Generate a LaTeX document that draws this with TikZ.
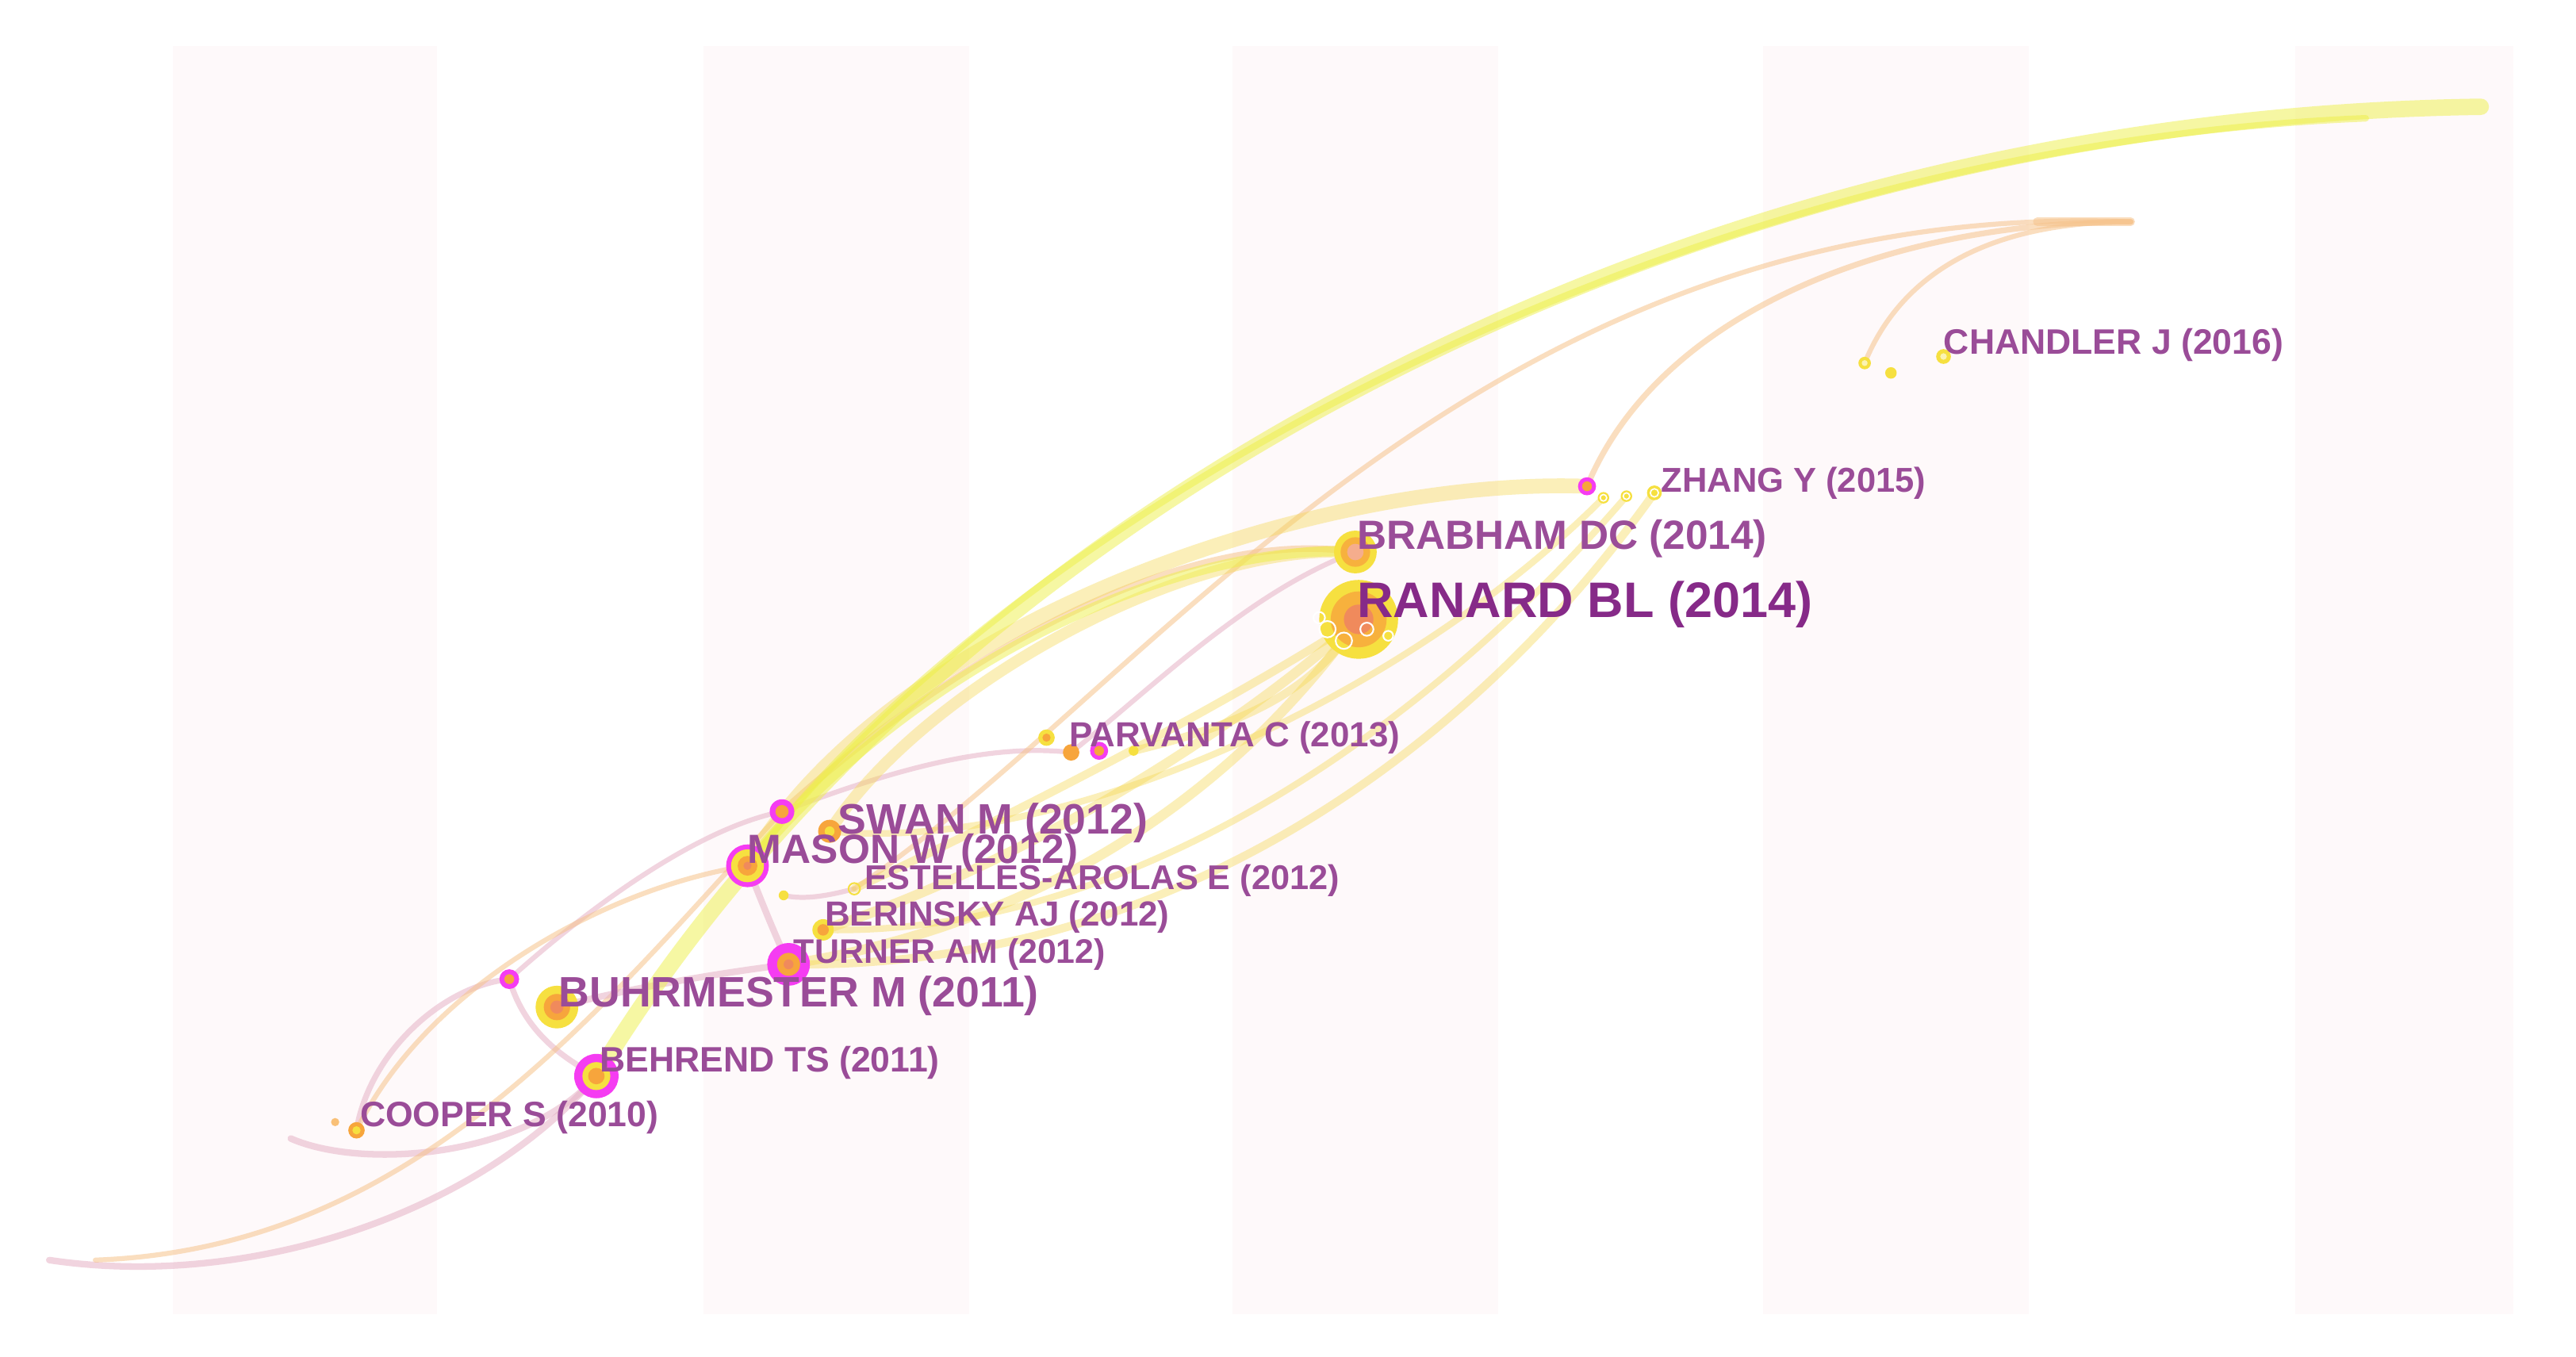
\documentclass[tikz,border=0pt]{standalone}
\usepackage{fontspec}
\setmainfont{Liberation Sans}
\definecolor{stripe}{HTML}{FEF9FA}
\definecolor{labc}{HTML}{9A4C98}
\definecolor{labd}{HTML}{862A88}
\definecolor{ylw}{HTML}{EEF048}
\definecolor{ygo}{HTML}{F5D850}
\definecolor{org}{HTML}{F6C38C}
\definecolor{pnk}{HTML}{E6B2C6}
\definecolor{mag}{HTML}{F53CF2}
\definecolor{nyel}{HTML}{F6E040}
\definecolor{norg}{HTML}{F7A53C}
\definecolor{ncor}{HTML}{F08A5C}
\begin{document}
\begin{tikzpicture}[x=1pt,y=-1pt,
  lbl/.style={font=\fontsize{#1}{#1}\selectfont\bfseries, text=labc, anchor=west, inner sep=0pt},
  ey/.style={draw=ylw, line width=#1, opacity=0.5, line cap=round},
  eg/.style={draw=ygo, line width=#1, opacity=0.4, line cap=round},
  eo/.style={draw=org, line width=#1, opacity=0.55, line cap=round},
  ep/.style={draw=pnk, line width=#1, opacity=0.55, line cap=round}]
\useasboundingbox (0,0) rectangle (1568,826);
\fill[white] (0,0) rectangle (1568,826);
% year stripes
\foreach \a/\b in {105/266,428/590,750/912,1073/1235,1397/1530}
  \fill[stripe] (\a,28) rectangle (\b,800);
% node positions
\coordinate (ranard) at (827,377);
\coordinate (brabham) at (825,336);
\coordinate (zhang) at (966,296);
\coordinate (zhangA) at (976,303);
\coordinate (zhangB) at (990,302);
\coordinate (zhangC) at (1007,300);
\coordinate (chandA) at (1135,221);
\coordinate (chandB) at (1151,227);
\coordinate (chandler) at (1183,217);
\coordinate (topY) at (1510,65);
\coordinate (topY2) at (1440,72);
\coordinate (topO) at (1297,135);
\coordinate (parvY) at (637,449);
\coordinate (parvO) at (652,458);
\coordinate (parvM) at (669,457);
\coordinate (parvS) at (690,457);
\coordinate (swanM) at (476,494);
\coordinate (swan) at (505,506);
\coordinate (mason) at (455,527);
\coordinate (estA) at (477,545);
\coordinate (estB) at (520,541);
\coordinate (berinsky) at (501,566);
\coordinate (turner) at (480,587);
\coordinate (buhr) at (339,613);
\coordinate (buhrM) at (310,596);
\coordinate (behrend) at (363,655);
\coordinate (cooper) at (217,688);
\coordinate (cooperB) at (204,683);
\coordinate (llA) at (30,767);
\coordinate (llB) at (58,767);
\coordinate (llC) at (177,693);
% ---- pink / orange links
\draw[ep=4] (llA) .. controls (150,785) and (290,740) .. (behrend);
\draw[ep=4] (llC) .. controls (220,712) and (320,705) .. (behrend);
\draw[ep=3.5] (cooper) .. controls (225,640) and (270,600) .. (buhrM);
\draw[ep=3.5] (buhrM) .. controls (320,630) and (345,645) .. (behrend);
\draw[ep=3] (buhrM) .. controls (350,560) and (420,505) .. (swanM);
\draw[eo=3] (llB) .. controls (250,760) and (360,620) .. (swanM);
\draw[eo=3] (cooper) .. controls (260,600) and (370,540) .. (mason);
\draw[ep=4] (buhr) .. controls (390,600) and (440,592) .. (turner);
\draw[ep=4] (turner) .. controls (470,565) and (462,545) .. (mason);
\draw[ep=3] (estA) .. controls (490,548) and (505,545) .. (estB);
\draw[ep=3] (swanM) .. controls (540,470) and (600,452) .. (parvO);
\draw[ep=3] (parvO) .. controls (700,420) and (760,360) .. (brabham);
\draw[eo=4] (swanM) .. controls (580,400) and (720,320) .. (brabham);
\draw[eo=3] (estB) .. controls (700,420) and (900,120) .. (topO);
\draw[eo=3.5] (zhang) .. controls (1010,190) and (1150,135) .. (topO);
\draw[eo=3] (chandA) .. controls (1160,160) and (1220,135) .. (topO);
\draw[eo=5] (1240,135) -- (topO);
% ---- yellow links
\draw[eg=6] (turner) .. controls (650,560) and (760,470) .. (ranard);
\draw[eg=6] (berinsky) .. controls (640,520) and (770,430) .. (ranard);
\draw[eg=5] (estB) .. controls (650,480) and (760,420) .. (ranard);
\draw[eg=5] (turner) .. controls (720,590) and (900,450) .. (zhangC);
\draw[eg=4] (berinsky) .. controls (700,570) and (880,430) .. (zhangB);
\draw[eg=4] (swan) .. controls (650,520) and (860,420) .. (zhangA);
\draw[eg=5] (parvS) .. controls (760,440) and (800,420) .. (ranard);
\draw[eg=9] (mason) .. controls (540,380) and (800,290) .. (zhang);
\draw[eg=7] (swan) .. controls (560,420) and (720,330) .. (brabham);
\draw[ey=6] (mason) .. controls (560,400) and (720,330) .. (brabham);
\draw[ey=4] (mason) .. controls (600,330) and (1000,90) .. (topY2);
\draw[ey=10] (behrend) .. controls (560,330) and (1000,72) .. (topY);
% ---- nodes (tree rings)
\fill[nyel] (ranard) circle (24);
\fill[norg!80!nyel] (ranard) circle (17);
\fill[ncor] (ranard) circle (9);
\foreach \p/\r in {{(808,383)}/5,{(818,390)}/5,{(803,376)}/3.5,{(832,383)}/4,{(845,387)}/3}
  \draw[white, line width=1] \p circle (\r);
\fill[nyel] (brabham) circle (13);
\fill[norg!80!nyel] (brabham) circle (9);
\fill[ncor!70!white] (brabham) circle (5);
\fill[mag] (zhang) circle (5.5);
\fill[norg] (zhang) circle (3);
\fill[nyel] (zhangA) circle (3.5);
\fill[nyel] (zhangB) circle (3.5);
\fill[nyel] (zhangC) circle (4.5);
\draw[white, line width=0.8] (zhangA) circle (2) (zhangB) circle (2) (zhangC) circle (2.5);
\fill[nyel] (chandA) circle (3.8);
\fill[nyel!40!white] (chandA) circle (1.8);
\fill[nyel] (chandB) circle (3.5);
\fill[nyel] (chandler) circle (4.5);
\fill[nyel!40!white] (chandler) circle (2);
\fill[nyel] (parvY) circle (5);
\fill[norg] (parvY) circle (2.5);
\fill[norg] (parvO) circle (5);
\fill[mag] (parvM) circle (5.5);
\fill[norg] (parvM) circle (3);
\fill[nyel] (parvS) circle (3);
\fill[norg] (swan) circle (7);
\fill[nyel] (swan) circle (3);
\fill[mag] (swanM) circle (7.5);
\fill[norg] (swanM) circle (4);
\fill[mag] (mason) circle (13);
\fill[nyel] (mason) circle (10);
\fill[norg] (mason) circle (6);
\fill[ncor] (mason) circle (2.5);
\fill[nyel] (estA) circle (3);
\draw[nyel, line width=1] (estB) circle (3.5);
\fill[nyel] (berinsky) circle (6.5);
\fill[norg] (berinsky) circle (3.5);
\fill[mag] (turner) circle (13);
\fill[norg] (turner) circle (7);
\fill[ncor] (turner) circle (3);
\fill[nyel] (buhr) circle (13);
\fill[norg] (buhr) circle (8);
\fill[ncor] (buhr) circle (4);
\fill[mag] (buhrM) circle (6);
\fill[norg] (buhrM) circle (3);
\fill[mag] (behrend) circle (13.5);
\fill[nyel] (behrend) circle (8.5);
\fill[norg] (behrend) circle (5);
\fill[norg] (cooper) circle (5);
\fill[nyel] (cooper) circle (2.5);
\fill[norg!70!white] (cooperB) circle (2.5);
% ---- labels
\node[lbl=21.5] (tchandler) at (1183,210) {CHANDLER J (2016)};
\node[lbl=21]   (tzhang) at (1011,294) {ZHANG Y (2015)};
\node[lbl=24.8] (tbrabham) at (826,328) {BRABHAM DC (2014)};
\node[lbl=30.4, text=labd] (tranard) at (826,368) {RANARD BL (2014)};
\node[lbl=21.2] (tparvanta) at (651,449) {PARVANTA C (2013)};
\node[lbl=25.9] (tswan) at (510,501) {SWAN M (2012)};
\node[lbl=24.8] (tmason) at (455,519) {MASON W (2012)};
\node[lbl=20.9] (testelles) at (526,536) {ESTELLES-AROLAS E (2012)};
\node[lbl=21.2] (tberinsky) at (502,558) {BERINSKY AJ (2012)};
\node[lbl=20.7] (tturner) at (483,581) {TURNER AM (2012)};
\node[lbl=25.9] (tbuhr) at (340,606) {BUHRMESTER M (2011)};
\node[lbl=21.5] (tbehrend) at (365,647) {BEHREND TS (2011)};
\node[lbl=21.5] (tcooper) at (219,680) {COOPER S (2010)};
\end{tikzpicture}
\end{document}
